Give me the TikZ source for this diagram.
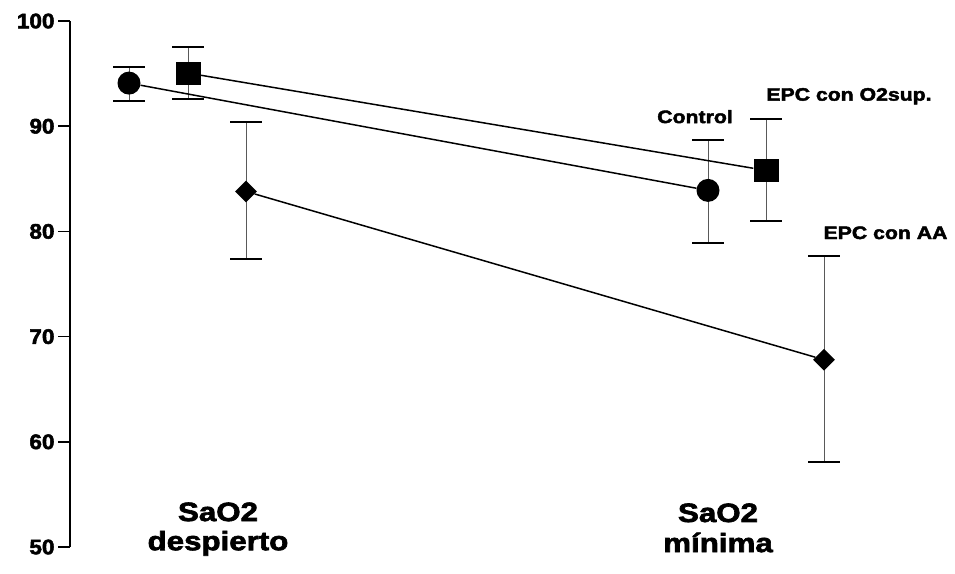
\documentclass[tikz,border=0pt]{standalone}
\usepackage{fontspec}
\usepackage{tikz}
\usetikzlibrary{shapes.geometric}
\newfontfamily\plotfont[FakeStretch=1.18,FakeBold=2.5,UprightFont={* Bold}]{Liberation Sans}
\newfontfamily\tickfont[FakeStretch=1.07,FakeBold=2.5,UprightFont={* Bold}]{Liberation Sans}

\tikzset{
  dot/.style={circle,fill=black,inner sep=0pt,minimum size=23pt},
  sqbox/.style={rectangle,fill=black,inner sep=0pt,minimum width=25pt,minimum height=23pt},
  rhomb/.style={diamond,fill=black,inner sep=0pt,minimum width=22pt,minimum height=22pt},
  series/.style={line width=1.5pt},
  ticklabel/.style={anchor=east,font=\tickfont\fontsize{21}{24}\selectfont},
  grouplabel/.style={anchor=base,font=\plotfont\fontsize{18}{20}\selectfont},
  axislabel/.style={anchor=base,font=\plotfont\fontsize{26.5}{30}\selectfont}
}

\begin{document}
\begin{tikzpicture}[x=1pt,y=10.52pt]
  \useasboundingbox (0,47.53) rectangle (955,102);
  % axis
  \draw[line width=2.5pt] (70,50) -- (70,100);
  \foreach \v in {50,60,...,100} {
    \draw[line width=1.5pt] (58,\v) -- (70,\v);
    \node[ticklabel] (t\v) at (58,\v) {\v};
  }
  % error bars
  \foreach \x/\lo/\hi in {129/92.4/95.6, 188/92.6/97.5, 246/77.4/90.4,
                          708/78.9/88.7, 766/81/90.7, 824/58.1/77.7} {
    \draw[black!65,line width=0.9pt] (\x,\lo) -- (\x,\hi);
    \draw[line width=1.8pt] (\x-16,\lo) -- (\x+16,\lo);
    \draw[line width=1.8pt] (\x-16,\hi) -- (\x+16,\hi);
  }
  % means
  \node[dot] (c1) at (129,94.1) {};
  \node[dot] (c2) at (708,83.9) {};
  \node[sqbox] (s1) at (188,95.05) {};
  \node[sqbox] (s2) at (766,85.8) {};
  \node[rhomb] (d1) at (246,83.8) {};
  \node[rhomb] (d2) at (824,67.8) {};
  \draw[series] (c1) -- (c2);
  \draw[series] (s1) -- (s2);
  \draw[series] (d1) -- (d2);
  % labels
  \node[grouplabel] (ctl) at (695,90.3) {Control};
  \node[grouplabel] (oxy) at (849,92.43) {EPC con O2sup.};
  \node[grouplabel] (aa) at (885.5,79.28) {EPC con AA};
  \node[axislabel] (awake) at (218,52.47) {SaO2};
  \node[axislabel] (awake2) at (218,49.7) {despierto};
  \node[axislabel] (low) at (718,52.38) {SaO2};
  \node[axislabel] (low2) at (718,49.52) {mínima};
\end{tikzpicture}
\end{document}
